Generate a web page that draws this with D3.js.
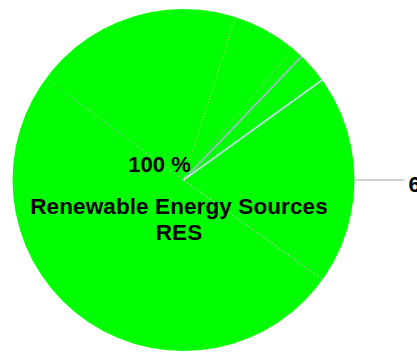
<!DOCTYPE html>
<html>
<head>
<meta charset="utf-8">
<script src="https://cdn.jsdelivr.net/npm/d3@7"></script>
<style>
  html, body { margin: 0; padding: 0; background: #fff; overflow: hidden; }
  svg { display: block; }
  text { font-family: "Liberation Sans", Arial, sans-serif; font-weight: bold; fill: #000; }
</style>
</head>
<body>
<svg id="chart" width="417" height="352"></svg>
<script>
// Share of energy sources (percent)
const categories = ["Renewable Energy Sources RES"];
const values = [100];
const valueLabels = ["100 %"];

// Boundaries of the near-zero slices, as percent of the full circle
const dividerPositions = [4.94, 11.08, 12.14, 15.06, 34.89, 85.11];
const dividerColors = ["#cfe86a", "#c9b7b7", "#a9b6d2", "#c4dbe9", "#c8c8c8", "#9cc79c"];
const dividerDashes = ["1,2", "1,2", null, null, "2,2", "2,3"];

// Outside label with leader line
const outerLabelTexts = ["6"];
const outerLabelPositions = [25];

const svg = d3.select("#chart");
const cx = 183.5, cy = 180, radius = 171;
const g = svg.append("g").attr("transform", `translate(${cx},${cy})`);

const pie = d3.pie().sort(null).value(d => d);
const arc = d3.arc().innerRadius(0).outerRadius(radius);
const angle = d3.scaleLinear().domain([0, 100]).range([0, 2 * Math.PI]);

g.selectAll("path.slice")
  .data(pie(values))
  .join("path")
  .attr("class", "slice")
  .attr("d", arc)
  .attr("fill", "#00ff00");

// Slice borders
const point = (p, r) => {
  const a = angle(p);
  return [Math.sin(a) * r, -Math.cos(a) * r];
};
g.selectAll("line.divider")
  .data(dividerPositions)
  .join("line")
  .attr("class", "divider")
  .attr("x1", 0).attr("y1", 0)
  .attr("x2", d => point(d, radius)[0])
  .attr("y2", d => point(d, radius)[1])
  .attr("stroke", (d, i) => dividerColors[i])
  .attr("stroke-width", (d, i) => dividerDashes[i] ? 1 : 1.6)
  .attr("stroke-dasharray", (d, i) => dividerDashes[i]);

// Inner label
g.append("text")
  .attr("x", -24).attr("y", -8)
  .attr("text-anchor", "middle")
  .style("font-size", "22px")
  .text(valueLabels[0]);

const words = categories[0].split(" ");
const nameLines = [words.slice(0, 3).join(" "), words.slice(3).join(" ")];
g.selectAll("text.name")
  .data(nameLines)
  .join("text")
  .attr("class", "name")
  .attr("x", -4.5)
  .attr("y", (d, i) => 34 + i * 26)
  .attr("text-anchor", "middle")
  .style("font-size", "22.5px")
  .style("letter-spacing", "0.1px")
  .text(d => d);

// Outer label and leader line
outerLabelPositions.forEach((p, i) => {
  const [x1, y1] = point(p, radius);
  const [x2, y2] = point(p, radius + 50);
  g.append("line")
    .attr("x1", x1).attr("y1", y1)
    .attr("x2", x2).attr("y2", y2)
    .attr("stroke", "#d0d0d0")
    .attr("stroke-width", 2);
  g.append("text")
    .attr("x", x2 + 4).attr("y", y2 + 12)
    .style("font-size", "22px")
    .text(outerLabelTexts[i]);
});
</script>
</body>
</html>
